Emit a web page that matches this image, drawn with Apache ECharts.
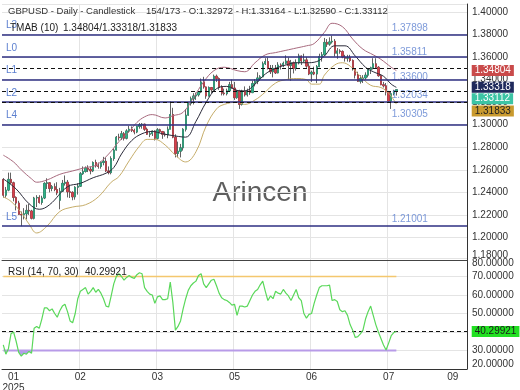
<!DOCTYPE html>
<html><head><meta charset="utf-8">
<script src="https://cdn.jsdelivr.net/npm/echarts@6/dist/echarts.min.js"></script>
<style>html,body{margin:0;padding:0;background:#fff}#c{width:520px;height:390px}</style>
</head><body><div id="c"></div>
<script>
// ---------- DATA ----------
const opens=[1.2515,1.2375,1.2420,1.2515,1.2485,1.2355,1.2305,1.2205,1.2200,1.2210,
1.2240,1.2235,1.2170,1.2350,1.2355,1.2310,1.2350,1.2480,1.2485,1.2435,
1.2450,1.2425,1.2330,1.2410,1.2480,1.2490,1.2405,1.2400,1.2360,1.2445,
1.2455,1.2565,1.2585,1.2615,1.2605,1.2590,1.2665,1.2635,1.2630,1.2665,
1.2675,1.2590,1.2575,1.2700,1.2775,1.2890,1.2885,1.2920,1.2880,1.2945,
1.2960,1.2950,1.2935,1.2985,1.3000,1.3005,1.2960,1.2915,1.2920,1.2945,
1.2880,1.2955,1.2940,1.2915,1.2910,1.2960,1.3090,1.2890,1.2745,1.2765,
1.2795,1.2960,1.3085,1.3190,1.3230,1.3255,1.3265,1.3290,1.3380,1.3335,
1.3255,1.3330,1.3310,1.3430,1.3410,1.3330,1.3280,1.3275,1.3300,1.3355,
1.3325,1.3240,1.3300,1.3180,1.3300,1.3265,1.3305,1.3285,1.3365,1.3385,
1.3415,1.3425,1.3540,1.3560,1.3500,1.3470,1.3500,1.3460,1.3530,1.3525,
1.3545,1.3565,1.3525,1.3550,1.3500,1.3550,1.3610,1.3565,1.3575,1.3520,
1.3450,1.3465,1.3450,1.3515,1.3605,1.3620,1.3730,1.3715,1.3735,1.3740,
1.3635,1.3655,1.3650,1.3600,1.3590,1.3595,1.3570,1.3495,1.3440,1.3385,
1.3410,1.3415,1.3440,1.3490,1.3505,1.3540,1.3510,1.3435,1.3355,1.3345,
1.3290,1.3210,1.3275,1.32972];
const highs=[1.2525,1.2448,1.2575,1.2575,1.2495,1.2365,1.2325,1.2230,1.2260,1.2290,
1.2300,1.2245,1.2360,1.2375,1.2375,1.2370,1.2490,1.2525,1.2490,1.2465,
1.2480,1.2490,1.2440,1.2510,1.2550,1.2510,1.2470,1.2410,1.2455,1.2480,
1.2580,1.2630,1.2630,1.2640,1.2630,1.2675,1.2690,1.2665,1.2675,1.2715,
1.2710,1.2630,1.2720,1.2790,1.2900,1.2920,1.2945,1.2935,1.2960,1.2990,
1.2985,1.2965,1.2990,1.3015,1.3015,1.3010,1.2975,1.2945,1.2950,1.2950,
1.2970,1.2965,1.2945,1.2940,1.2985,1.3207,1.3150,1.2915,1.2850,1.2830,
1.2970,1.3140,1.3200,1.3250,1.3280,1.3285,1.3295,1.3410,1.3425,1.3340,
1.3340,1.3335,1.3445,1.3445,1.3420,1.3350,1.3320,1.3320,1.3380,1.3400,
1.3380,1.3310,1.3310,1.3310,1.3340,1.3320,1.3345,1.3390,1.3405,1.3465,
1.3440,1.3560,1.3590,1.3595,1.3530,1.3530,1.3530,1.3555,1.3545,1.3560,
1.3615,1.3595,1.3575,1.3560,1.3580,1.3630,1.3615,1.3630,1.3600,1.3545,
1.3480,1.3515,1.3530,1.3630,1.3645,1.3770,1.3760,1.3775,1.3790,1.3760,
1.3680,1.3670,1.3660,1.3620,1.3620,1.3620,1.3580,1.3500,1.3470,1.3440,
1.3440,1.3465,1.3500,1.3515,1.3590,1.3590,1.3520,1.3445,1.3380,1.3370,
1.3300,1.3290,1.3310,1.33164];
const lows=[1.2353,1.2352,1.2410,1.2475,1.2320,1.2240,1.2200,1.2100,1.2160,1.2160,
1.2200,1.2160,1.2160,1.2270,1.2300,1.2290,1.2340,1.2430,1.2400,1.2410,
1.2410,1.2375,1.2250,1.2405,1.2460,1.2355,1.2350,1.2330,1.2335,1.2380,
1.2450,1.2555,1.2575,1.2580,1.2560,1.2580,1.2620,1.2610,1.2610,1.2640,
1.2580,1.2560,1.2560,1.2680,1.2770,1.2860,1.2865,1.2860,1.2870,1.2930,
1.2935,1.2915,1.2925,1.2965,1.2965,1.2945,1.2910,1.2890,1.2900,1.2860,
1.2870,1.2925,1.2875,1.2895,1.2880,1.2960,1.2880,1.2710,1.2710,1.2710,
1.2770,1.2940,1.3080,1.3170,1.3180,1.3220,1.3250,1.3280,1.3320,1.3230,
1.3250,1.3280,1.3300,1.3380,1.3310,1.3260,1.3260,1.3260,1.3290,1.3320,
1.3220,1.3230,1.3140,1.3170,1.3250,1.3250,1.3265,1.3280,1.3340,1.3360,
1.3390,1.3420,1.3530,1.3490,1.3450,1.3420,1.3450,1.3455,1.3490,1.3510,
1.3535,1.3400,1.3390,1.3455,1.3480,1.3535,1.3530,1.3550,1.3505,1.3440,
1.3380,1.3440,1.3370,1.3510,1.3560,1.3615,1.3690,1.3700,1.3720,1.3605,
1.3585,1.3630,1.3590,1.3560,1.3560,1.3555,1.3480,1.3410,1.3380,1.3365,
1.3370,1.3400,1.3420,1.3450,1.3490,1.3500,1.3425,1.3350,1.3330,1.3260,
1.3205,1.3140,1.3260,1.32590];
const closes=[1.2375,1.2420,1.2515,1.2485,1.2355,1.2305,1.2205,1.2200,1.2210,1.2240,
1.2235,1.2170,1.2350,1.2355,1.2310,1.2350,1.2480,1.2485,1.2435,1.2450,
1.2425,1.2395,1.2410,1.2480,1.2490,1.2405,1.2400,1.2360,1.2445,1.2455,
1.2565,1.2585,1.2615,1.2605,1.2590,1.2665,1.2635,1.2630,1.2665,1.2675,
1.2590,1.2575,1.2700,1.2775,1.2890,1.2885,1.2920,1.2880,1.2945,1.2960,
1.2950,1.2935,1.2985,1.3000,1.3005,1.2960,1.2915,1.2920,1.2945,1.2880,
1.2955,1.2940,1.2915,1.2910,1.2960,1.3090,1.2890,1.2745,1.2765,1.2795,
1.2960,1.3085,1.3190,1.3230,1.3255,1.3265,1.3290,1.3380,1.3335,1.3255,
1.3330,1.3310,1.3430,1.3410,1.3330,1.3280,1.3275,1.3300,1.3355,1.3325,
1.3240,1.3300,1.3180,1.3300,1.3265,1.3305,1.3285,1.3365,1.3385,1.3415,
1.3425,1.3540,1.3560,1.3500,1.3470,1.3500,1.3460,1.3530,1.3525,1.3545,
1.3565,1.3525,1.3550,1.3500,1.3550,1.3610,1.3565,1.3575,1.3520,1.3450,
1.3465,1.3450,1.3515,1.3605,1.3620,1.3730,1.3715,1.3735,1.3740,1.3635,
1.3655,1.3650,1.3600,1.3590,1.3595,1.3570,1.3495,1.3440,1.3385,1.3410,
1.3415,1.3440,1.3490,1.3505,1.3540,1.3510,1.3435,1.3355,1.3345,1.3290,
1.3210,1.3275,1.32972,1.33112];

// TMAB (10) bands: [bar index, value]
const tmaUpper=[[0,1.273],[4,1.267],[7,1.260],[11,1.252],[13,1.249],[17,1.251],[22,1.256],[27,1.259],[32,1.262],[36,1.264],[41,1.274],[45,1.285],[49,1.294],[52,1.302],[55,1.307],[58,1.309],[63,1.306],[66,1.308],[70,1.311],[74,1.324],[78,1.338],[82,1.348],[86,1.351],[91,1.348],[94,1.347],[98,1.355],[102,1.362],[106,1.364],[110,1.366],[114,1.368],[118,1.370],[121,1.372],[125,1.382],[128,1.390],[132,1.387],[136,1.376],[140,1.367],[144,1.362],[147,1.358],[151,1.351],[153,1.34804]];
const tmaMiddle=[[0,1.252],[5,1.243],[10,1.230],[14,1.225],[18,1.229],[25,1.245],[30,1.248],[35,1.253],[40,1.257],[43,1.262],[46,1.274],[50,1.286],[54,1.292],[58,1.294],[62,1.292],[67,1.290],[71,1.289],[75,1.303],[79,1.320],[83,1.332],[87,1.334],[92,1.330],[94,1.330],[98,1.336],[102,1.345],[106,1.350],[110,1.353],[114,1.355],[118,1.355],[122,1.356],[125,1.361],[129,1.370],[133,1.370],[137,1.361],[141,1.351],[144,1.347],[148,1.343],[151,1.336],[153,1.33318]];
const tmaLower=[[0,1.236],[3,1.232],[7,1.222],[10,1.212],[13,1.204],[17,1.210],[22,1.223],[27,1.227],[32,1.229],[37,1.236],[42,1.249],[45,1.254],[49,1.268],[53,1.281],[56,1.287],[59,1.287],[63,1.282],[67,1.273],[71,1.267],[75,1.276],[79,1.299],[83,1.314],[86,1.318],[91,1.320],[94,1.318],[98,1.322],[101,1.327],[106,1.337],[110,1.340],[114,1.341],[118,1.340],[120,1.336],[123,1.336],[125,1.344],[129,1.353],[132,1.355],[135,1.352],[139,1.343],[143,1.335],[147,1.333],[150,1.328],[153,1.31833]];

const rsi=[33,28,31,39,40,35,29,27,28.5,28,
29.5,28.5,42,43,42,47,53,53,51.5,52.5,
50,48,51.5,54,55,51,46,45,50,58,
62,63,64,60.5,62,64,61.5,63,61,58,
54,53.5,59.5,66,70,71.5,70,68,69.5,70.5,
69.5,69,71,72,71.5,64,62,60.5,60,55.5,
59,59.5,57.5,57.5,58,67,56,41,43,46,
52.5,58,62.5,65,66.5,67.5,70.5,71.5,66,64,
66,68,68.5,65,61,58.5,57.5,57,56,54.5,
55,49,54,54,53.5,54,57,60,62,63,
65.5,67.5,62,57,59.5,58,62,61,60.5,63,
61,59.5,57,60,63,58.5,57,50,47.5,49.5,
50,55.5,60,64,65,65,65,65.3,57,57.5,
56.5,52,51,51.5,49,44,41,37,37.5,39,
41,47,51,54,49,44,40,36.5,33,30.3,
34,38,39.7,40.29921];

const levelValues=[1.37898,1.35811,1.33600,1.32034,1.30305,1.21001];
const levelNames=['L3','L0','L1','L2','L4','L5'];
const currentValues=[1.34804,1.33318,1.33112,1.31833]; // TMAB upper, TMAB middle, close, TMAB lower
const rsiLevels=[70,30];
const rsiLast=40.29921;
const tickIndex=[4,30,60,90,120,150,175];
const tickText=['01\n2025','02','03','05','06','07','09'];
const gridIndexes=[30,60,90,120,150];
const SLOTS=181;

// ---------- STYLE ----------
const tagBg=['#c94a4a','#1f2a5c','#3cc4a5','#c99a2e'];
const tagFg=['#ffffff','#ffffff','#ffffff','#222222'];
const tagShift=[0,0,9,7];
const FONT='Liberation Sans, Arial, sans-serif';

// categories: weekdays from 2 Jan 2025
const cats=[];
{let d=new Date(Date.UTC(2025,0,2));
 while(cats.length<SLOTS){const w=d.getUTCDay(); if(w!==0&&w!==6) cats.push(d.toISOString().slice(0,10)); d.setUTCDate(d.getUTCDate()+1);}}

const lastIdx=closes.length-1;
const wickData=opens.map((o,i)=>[o,closes[i],lows[i],highs[i]]);
const bodyData=opens.map((o,i)=>[o,closes[i],Math.min(o,closes[i]),Math.max(o,closes[i])]);

const chart=echarts.init(document.getElementById('c'),null,{renderer:'canvas'});
const splitIv=(i)=>gridIndexes.indexOf(i)>=0;

const series=[
  {type:'candlestick',name:'wick',xAxisIndex:0,yAxisIndex:0,data:wickData,barWidth:1.8,
   itemStyle:{color:'#3a3a3a',color0:'#3a3a3a',borderColor:'#3a3a3a',borderColor0:'#3a3a3a',borderWidth:0.8},
   markLine:{silent:true,symbol:['none','none'],animation:false,
     data:[
       ...levelValues.map((v,k)=>({yAxis:v,name:levelNames[k],lineStyle:{color:'#2e2f82',width:1.5,type:'solid'},
          label:{show:true,position:'insideStartTop',formatter:levelNames[k],color:'#5b7fcf',fontSize:10,distance:4,fontFamily:FONT}})),
       ...currentValues.map(v=>({yAxis:v,lineStyle:{color:'#111',width:1,type:[4,3]},label:{show:false}}))
     ]}},
  {type:'candlestick',name:'body',xAxisIndex:0,yAxisIndex:0,data:bodyData,barWidth:1.8,
   itemStyle:{color:'#2db388',color0:'#d9414d',borderColor:'#2db388',borderColor0:'#d9414d',borderWidth:0.4}},
  {type:'line',name:'upper',xAxisIndex:0,yAxisIndex:0,data:tmaUpper,smooth:0.4,symbol:'none',lineStyle:{color:'#a86a7e',width:1}},
  {type:'line',name:'middle',xAxisIndex:0,yAxisIndex:0,data:tmaMiddle,smooth:0.4,symbol:'none',lineStyle:{color:'#2b2b3a',width:1}},
  {type:'line',name:'lower',xAxisIndex:0,yAxisIndex:0,data:tmaLower,smooth:0.4,symbol:'none',lineStyle:{color:'#c6ad6a',width:1}},
  {type:'scatter',name:'levelText',xAxisIndex:0,yAxisIndex:0,symbolSize:1,itemStyle:{color:'rgba(0,0,0,0)'},silent:true,
   data:levelValues.map(v=>[151,v]),
   label:{show:true,position:'right',distance:0,offset:[0,-7],formatter:(p)=>p.value[1].toFixed(5),color:'#5b7fcf',fontSize:10,fontFamily:FONT}},
  {type:'line',name:'rsiFill',xAxisIndex:1,yAxisIndex:1,data:rsi,symbol:'none',lineStyle:{width:0,opacity:0},
   areaStyle:{origin:30,opacity:0.75},silent:true},
  {type:'line',name:'rsi',xAxisIndex:1,yAxisIndex:1,data:rsi,symbol:'none',lineStyle:{color:'#5ad85a',width:1.2},z:5},
  {type:'line',name:'rsi70',xAxisIndex:1,yAxisIndex:1,data:[[0,rsiLevels[0]],[lastIdx,rsiLevels[0]]],symbol:'none',silent:true,z:3,
   lineStyle:{color:'#f4c76e',width:1.5}},
  {type:'line',name:'rsi30',xAxisIndex:1,yAxisIndex:1,data:[[0,rsiLevels[1]],[lastIdx,rsiLevels[1]]],symbol:'none',silent:true,z:3,
   lineStyle:{color:'#b89be8',width:2},
   markLine:{silent:true,symbol:['none','none'],animation:false,label:{show:false},
     data:[{yAxis:rsiLast,lineStyle:{color:'#111',width:1,type:[4,3]}}]}}
];

const baseGraphic=[
  {id:'t1',type:'text',left:8,top:6,z:20,style:{text:'GBPUSD - Daily - Candlestick',fontSize:9.5,fill:'#333',fontFamily:FONT}},
  {id:'t2',type:'text',left:146,top:6,z:20,style:{text:'154/173 - O:1.32972 - H:1.33164 - L:1.32590 - C:1.33112',fontSize:9.5,fill:'#333',fontFamily:FONT}},
  {id:'t3',type:'text',left:10,top:23,z:20,style:{text:'TMAB (10)',fontSize:10,fill:'#222',fontFamily:FONT}},
  {id:'t4',type:'text',left:63,top:23,z:20,style:{text:'1.34804/1.33318/1.31833',fontSize:10,fill:'#222',fontFamily:FONT}},
  {id:'t5',type:'text',left:8,top:267,z:20,style:{text:'RSI (14, 70, 30)',fontSize:10,fill:'#222',fontFamily:FONT}},
  {id:'t6',type:'text',left:85,top:267,z:20,style:{text:'40.29921',fontSize:10,fill:'#222',fontFamily:FONT}},
  {id:'wm',type:'text',x:260,y:193,z:-1,silent:true,style:{text:'Arincen',fontSize:28,fill:'#5e5e5e',align:'center',verticalAlign:'middle',fontFamily:FONT}}
];

const option={
  animation:false,
  backgroundColor:'#ffffff',
  textStyle:{fontFamily:FONT},
  grid:[
    {left:2,right:53,top:4,bottom:130,outerBoundsMode:'none'},
    {left:2,right:53,top:258,bottom:21,outerBoundsMode:'none'}
  ],
  xAxis:[
    {type:'category',gridIndex:0,data:cats,boundaryGap:true,
     axisLine:{show:true,lineStyle:{color:'#444',width:1}},axisTick:{show:false,interval:splitIv},axisLabel:{show:false},
     splitLine:{show:true,interval:splitIv,lineStyle:{color:'#e4e4e4',width:1}}},
    {type:'category',gridIndex:1,data:cats,boundaryGap:true,
     axisLine:{show:true,lineStyle:{color:'#333',width:1}},axisTick:{show:false,interval:splitIv},
     axisLabel:{show:true,interval:(i)=>tickIndex.indexOf(i)>=0,formatter:(v,i)=>tickText[tickIndex.indexOf(i)]||'',color:'#333',fontSize:10,margin:3,lineHeight:11,fontFamily:FONT},
     splitLine:{show:true,interval:splitIv,lineStyle:{color:'#e4e4e4',width:1}}}
  ],
  yAxis:[
    {type:'value',gridIndex:0,position:'right',min:1.18,max:1.4071,interval:0.02,
     axisLine:{show:true,lineStyle:{color:'#333',width:1}},axisTick:{show:false},
     axisLabel:{color:'#333',fontSize:10,margin:5,formatter:(v)=>v.toFixed(5),showMaxLabel:false,verticalAlignMinLabel:'bottom',fontFamily:FONT},
     splitLine:{show:true,lineStyle:{color:'#e4e4e4',width:1}}},
    {type:'value',gridIndex:1,position:'right',min:20,max:80,interval:10,
     axisLine:{show:true,lineStyle:{color:'#333',width:1}},axisTick:{show:false},
     axisLabel:{color:'#333',fontSize:10,margin:5,formatter:(v)=>v.toFixed(5),verticalAlignMinLabel:'bottom',verticalAlignMaxLabel:'top',fontFamily:FONT},
     splitLine:{show:true,lineStyle:{color:'#e4e4e4',width:1}}}
  ],
  visualMap:[{show:false,type:'piecewise',seriesIndex:6,dimension:1,
    pieces:[{min:0,max:30,color:'#9a7ee4'},{min:30,max:100,color:'rgba(255,255,255,0)'}],
    outOfRange:{color:'rgba(255,255,255,0)'}}],
  series:series,
  graphic:baseGraphic
};
chart.setOption(option);

// value tags on the right axis, positioned through the axis scales
const tagX=chart.convertToPixel({gridIndex:0},[SLOTS-1,currentValues[0]])[0]+6;
const tags=currentValues.map((v,k)=>({
  id:'tag'+k,type:'text',x:tagX,y:chart.convertToPixel({gridIndex:0},[SLOTS-1,v])[1]+tagShift[k],z:30+k,silent:true,
  style:{text:v.toFixed(5),fontSize:10,fontFamily:FONT,fill:tagFg[k],backgroundColor:tagBg[k],padding:[1,3,0,3],verticalAlign:'middle',align:'left'}
}));
tags.push({id:'tagRsi',type:'text',x:tagX,y:chart.convertToPixel({gridIndex:1},[SLOTS-1,rsiLast])[1],z:30,silent:true,
  style:{text:rsiLast.toFixed(5),fontSize:10,fontFamily:FONT,fill:'#1a1a1a',backgroundColor:'#22e022',padding:[1,3,0,3],verticalAlign:'middle',align:'left'}});
chart.setOption({graphic:baseGraphic.concat(tags)});
</script></body></html>
